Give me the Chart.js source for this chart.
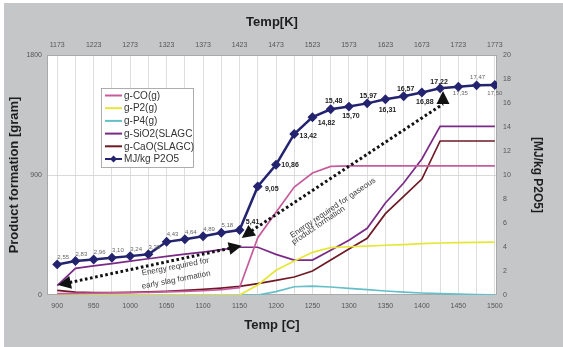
<!DOCTYPE html>
<html><head><meta charset="utf-8">
<script src="https://cdn.jsdelivr.net/npm/chart.js@4/dist/chart.umd.min.js"></script>
<style>html,body{margin:0;padding:0;background:#fff;}canvas{display:block;}</style>
</head><body>
<canvas id="c" width="563" height="347"></canvas>
<script>
// ---- data ----
const temps = [900,925,950,975,1000,1025,1050,1075,1100,1125,1150,1175,1200,1225,1250,1275,1300,1325,1350,1375,1400,1425,1450,1475,1500];
const mjPerKg = [2.55,2.83,2.96,3.10,3.24,3.39,4.43,4.64,4.89,5.18,5.41,9.05,10.86,13.42,14.82,15.48,15.70,15.97,16.31,16.57,16.88,17.22,17.35,17.47,17.50];
const gCO   = [10,12,14,16,18,20,23,27,32,40,55,430,620,810,915,965,968,968,968,968,968,968,968,968,968];
const gP2   = [0,0,0,0,0,0,0,0,0,0,0,75,185,255,320,355,362,367,373,378,385,390,393,395,397];
const gP4   = [0,0,0,0,0,0,0,0,0,0,0,0,25,62,67,60,50,40,30,22,15,10,6,3,2];
const gSiO2 = [70,200,218,236,254,272,290,306,322,340,358,358,305,262,262,335,410,500,690,840,1020,1265,1265,1265,1265];
const gCaO  = [35,22,18,18,20,23,28,34,42,52,65,85,110,135,180,262,345,425,610,740,870,1155,1155,1155,1155];
const seriesNames = ['g-CO(g)','g-P2(g)','g-P4(g)','g-SiO2(SLAGC','g-CaO(SLAGC)','MJ/kg P2O5'];
const xLabelsC = [900,950,1000,1050,1100,1150,1200,1250,1300,1350,1400,1450,1500];
const xLabelsK = [1173,1223,1273,1323,1373,1423,1473,1523,1573,1623,1673,1723,1773];
const yLeftTicks = [0,900,1800];
const yRightTicks = [0,2,4,6,8,10,12,14,16,18,20];
const noteTexts = ['Energy required for','early slag formation','Energy required for gaseous','product formation'];

// ---- styling / annotation placement ----
const FF = "'Liberation Sans', Arial, sans-serif";
const colors = ['#c65c9c','#e6e638','#66bfc8','#7a2a86','#6e1a26','#23236f'];
const labelStyle = { // offsets of value labels relative to points
  dx:[6,6,6,6,6,6,6,6,6,6,13,14,14,14,14,3,2,1,2,2,3,-1,2,1,0],
  dy:[-7,-7,-7,-7,-7,-7,-7,-7,-7,-7,-8,3,0,2,6,-8,9,-7,11,-7,10,-6,7,-8,8],
  bold:[0,0,0,0,0,0,0,0,0,0,1,1,1,1,1,1,1,1,1,1,1,1,0,0,0]
};
const arrows = [ // in (°C, MJ) coordinates
  {a:[901,0.83], b:[1153,4.1], bUp:false},
  {a:[1153,4.75], b:[1429,17.0], bUp:true}
];
const notes = [ // text index, °C, MJ, rotation(deg)
  {t:0, x:1062, y:2.35, r:-11},
  {t:1, x:1063, y:1.25, r:-11},
  {t:2, x:1278, y:7.25, r:-34},
  {t:3, x:1258, y:5.8, r:-34}
];

const mk = arr => temps.map((t,i)=>({x:t,y:arr[i]}));
const gramSeries = [gCO,gP2,gP4,gSiO2,gCaO];
const datasets = gramSeries.map((arr,i)=>({
  label: seriesNames[i], data: mk(arr), borderColor: colors[i], borderWidth: 1.7,
  pointRadius: 0, xAxisID:'x', yAxisID:'y', tension:0, fill:false
}));
datasets.push({
  label: seriesNames[5], data: mk(mjPerKg), borderColor: colors[5], backgroundColor: colors[5],
  borderWidth: 2.5, pointStyle:'rectRot', pointRadius:3.2, pointBackgroundColor: colors[5],
  pointBorderColor: colors[5], xAxisID:'x', yAxisID:'y2', tension:0, fill:false
});

const bgPlugin = {
  id:'bg',
  beforeDraw(chart){
    const {ctx, chartArea:ca, width, height} = chart;
    ctx.save();
    ctx.fillStyle='#ffffff'; ctx.fillRect(0,0,width,height);
    ctx.fillStyle='#c5c6c8'; ctx.fillRect(4,3,width-4,height-3);
    ctx.fillStyle='#ffffff'; ctx.fillRect(ca.left,ca.top,ca.right-ca.left,ca.bottom-ca.top);
    ctx.restore();
  },
  beforeDatasetsDraw(chart){
    const {ctx, chartArea:ca} = chart;
    ctx.save();
    ctx.strokeStyle='#a9a9a9'; ctx.lineWidth=1;
    ctx.strokeRect(ca.left+0.5,ca.top+0.5,ca.right-ca.left-1,ca.bottom-ca.top-1);
    ctx.restore();
  }
};

function head(ctx, tip, ang, len, hw){
  ctx.beginPath();
  ctx.moveTo(tip[0],tip[1]);
  ctx.lineTo(tip[0]-len*Math.cos(ang)+hw*Math.sin(ang), tip[1]-len*Math.sin(ang)-hw*Math.cos(ang));
  ctx.lineTo(tip[0]-len*Math.cos(ang)-hw*Math.sin(ang), tip[1]-len*Math.sin(ang)+hw*Math.cos(ang));
  ctx.closePath(); ctx.fill();
}

const notePlugin = {
  id:'notes',
  afterDatasetsDraw(chart){
    const {ctx, chartArea:ca, scales} = chart;
    const X = v=>scales.x.getPixelForValue(v), Y = v=>scales.y2.getPixelForValue(v);
    ctx.save();
    // arrows
    arrows.forEach(ar=>{
      const a=[X(ar.a[0]),Y(ar.a[1])], b=[X(ar.b[0]),Y(ar.b[1])];
      const L=Math.hypot(b[0]-a[0],b[1]-a[1]); const ux=(b[0]-a[0])/L, uy=(b[1]-a[1])/L;
      const angB = ar.bUp ? -Math.PI/2 : Math.atan2(uy,ux);
      const angA = Math.atan2(-uy,-ux);
      const bEnd = ar.bUp ? [b[0], b[1]+13] : [b[0]-ux*12, b[1]-uy*12];
      ctx.strokeStyle='#111'; ctx.lineWidth=3; ctx.setLineDash([2.6,2.6]);
      ctx.beginPath(); ctx.moveTo(a[0]+ux*12,a[1]+uy*12); ctx.lineTo(bEnd[0],bEnd[1]); ctx.stroke();
      ctx.setLineDash([]); ctx.fillStyle='#111';
      head(ctx,a,angA,13,6.5); head(ctx,b,angB,13,6.5);
    });
    // notes
    ctx.fillStyle='#3a3a3a'; ctx.font='8px '+FF; ctx.textAlign='center'; ctx.textBaseline='middle';
    notes.forEach(n=>{
      ctx.save(); ctx.translate(X(n.x),Y(n.y)); ctx.rotate(n.r*Math.PI/180);
      ctx.fillText(noteTexts[n.t],0,0); ctx.restore();
    });
    // value labels
    const meta = chart.getDatasetMeta(5);
    meta.data.forEach((pt,i)=>{
      const s = mjPerKg[i].toFixed(2).replace('.',',');
      if(labelStyle.bold[i]){ctx.font='bold 7px '+FF; ctx.fillStyle='#1c1c1c';}
      else {ctx.font='6px '+FF; ctx.fillStyle='#666';}
      ctx.fillText(s, pt.x+labelStyle.dx[i], pt.y+labelStyle.dy[i]);
    });
    // legend
    const lx=ca.left+54, ly=ca.top+33, lw=92, lh=79;
    ctx.fillStyle='#fff'; ctx.fillRect(lx,ly,lw,lh);
    ctx.strokeStyle='#9a9a9a'; ctx.lineWidth=0.8; ctx.strokeRect(lx+0.5,ly+0.5,lw,lh);
    ctx.textAlign='left'; ctx.font='10px '+FF;
    seriesNames.forEach((nm,i)=>{
      const yy = ly+7.5+i*12.7;
      ctx.strokeStyle=colors[i]; ctx.lineWidth=2;
      ctx.beginPath(); ctx.moveTo(lx+4,yy); ctx.lineTo(lx+21,yy); ctx.stroke();
      if(i===5){
        ctx.fillStyle=colors[i]; ctx.beginPath();
        ctx.moveTo(lx+12.5,yy-3.5); ctx.lineTo(lx+16,yy); ctx.lineTo(lx+12.5,yy+3.5); ctx.lineTo(lx+9,yy); ctx.closePath(); ctx.fill();
      }
      ctx.fillStyle='#333'; ctx.fillText(nm,lx+23,yy+0.5);
    });
    ctx.restore();
  }
};

const tickFont = {size:7, family:FF};
new Chart(document.getElementById('c'), {
  type:'line',
  data:{datasets},
  options:{
    responsive:false, animation:false, devicePixelRatio:1,
    layout:{padding:0},
    plugins:{legend:{display:false}, tooltip:{enabled:false}},
    scales:{
      x:{type:'linear', position:'bottom', min:886, max:1503,
        afterBuildTicks:s=>{s.ticks=temps.map(v=>({value:v}));},
        ticks:{callback:v=>xLabelsC.includes(v)?String(v):'', font:tickFont, color:'#555', padding:7, maxRotation:0, autoSkip:false},
        grid:{color:'#d6d6d6', lineWidth:0.8, drawTicks:false}, border:{display:false},
        title:{display:true, text:'Temp [C]', color:'#1e1e1e', font:{size:13, weight:'bold', family:FF}, padding:{top:0,bottom:14}},
        afterFit:s=>{s.height=52;}},
      xTop:{type:'linear', position:'top', min:886+273, max:1503+273,
        afterBuildTicks:s=>{s.ticks=xLabelsK.map(v=>({value:v}));},
        ticks:{callback:v=>String(v), font:tickFont, color:'#555', padding:6, maxRotation:0, autoSkip:false},
        grid:{display:false, drawTicks:false}, border:{display:false},
        title:{display:true, text:'Temp[K]', color:'#1e1e1e', font:{size:13, weight:'bold', family:FF}, padding:{top:15,bottom:0}},
        afterFit:s=>{s.height=55;}},
      y:{position:'left', min:0, max:1800,
        afterBuildTicks:s=>{s.ticks=yLeftTicks.map(v=>({value:v}));},
        ticks:{callback:v=>String(v), font:tickFont, color:'#555', padding:5},
        grid:{color:c=>(c.tick && c.tick.value===900)?'#cfcfcf':'rgba(0,0,0,0)', lineWidth:0.8, drawTicks:false}, border:{display:false},
        title:{display:true, text:'Product formation [gram]', color:'#1e1e1e', font:{size:13, weight:'bold', family:FF}, padding:{top:7,bottom:0}},
        afterFit:s=>{s.width=47;}},
      y2:{position:'right', min:0, max:20,
        afterBuildTicks:s=>{s.ticks=yRightTicks.map(v=>({value:v}));},
        ticks:{callback:v=>String(v), font:tickFont, color:'#555', padding:6},
        grid:{display:false, drawTicks:false}, border:{display:false},
        title:{display:true, text:'[MJ/kg P2O5]', color:'#1e1e1e', font:{size:12, weight:'bold', family:FF}, padding:{top:18,bottom:0}},
        afterFit:s=>{s.width=66;}}
    }
  },
  plugins:[bgPlugin, notePlugin]
});
</script>
</body></html>
